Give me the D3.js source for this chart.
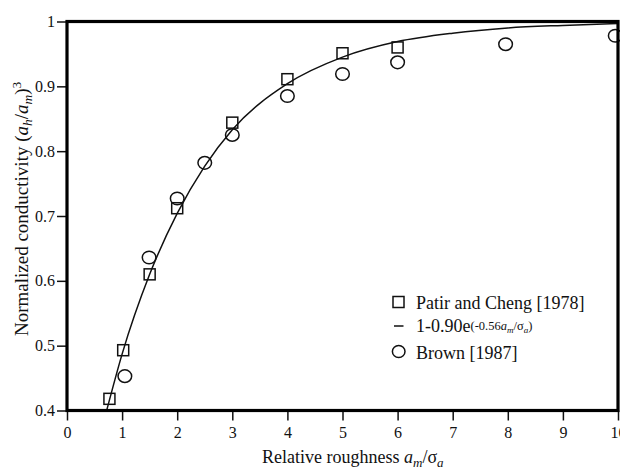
<!DOCTYPE html>
<html><head><meta charset="utf-8">
<script src="https://cdn.jsdelivr.net/npm/d3@7"></script>
<style>
body{margin:0;background:#fff}
svg text{font-family:"Times New Roman",Tinos,"Liberation Serif","DejaVu Serif","Noto Serif",serif !important;fill:#111}
</style>
</head><body><svg id="c" width="620" height="468"></svg>
<script>
// Patir and Cheng [1978] (squares)
const patirX = [0.77, 1.02, 1.5, 2, 3, 4, 5, 6];
const patirY = [0.418, 0.493, 0.61, 0.712, 0.844, 0.911, 0.951, 0.960];
// Brown [1987] (circles)
const brownX = [1.05, 1.49, 2, 2.5, 3, 4, 5, 6, 7.96, 9.95];
const brownY = [0.453, 0.636, 0.727, 0.782, 0.825, 0.885, 0.919, 0.937, 0.965, 0.978];
// fitted curve
const fitX = [0.72, 1, 1.5, 2, 2.5, 3, 4, 5, 6, 7, 8, 9, 10];
const fitY = [0.40, 0.487, 0.61, 0.704, 0.777, 0.833, 0.904, 0.945, 0.969, 0.982, 0.990, 0.994, 0.997];
// ticks
const xTicks = [0, 1, 2, 3, 4, 5, 6, 7, 8, 9, 10];
const xTickLabels = ["0","1","2","3","4","5","6","7","8","9","10"];
const yTicks = [0.4, 0.5, 0.6, 0.7, 0.8, 0.9, 1];
const yTickLabels = ["0.4","0.5","0.6","0.7","0.8","0.9","1"];

const FONT = '"Times New Roman", Tinos, "Liberation Serif", "DejaVu Serif", "Noto Serif", serif';
const svg = d3.select("#c");
const L = 67, R = 618, T = 21.5, B = 410.5;
const x = d3.scaleLinear().domain([0, 10]).range([L, R]);
const y = d3.scaleLinear().domain([0.4, 1]).range([B, T]);

svg.append("rect").attr("width", 620).attr("height", 468).attr("fill", "#fff");

svg.append("defs").append("clipPath").attr("id", "clip")
  .append("rect").attr("x", L).attr("y", T).attr("width", R - L).attr("height", B - T);

// axes
const xAxis = d3.axisBottom(x).tickValues(xTicks).tickFormat((d, i) => xTickLabels[i]).tickSize(10).tickSizeOuter(0).tickPadding(6);
const gx = svg.append("g").attr("transform", `translate(0,${B})`).call(xAxis).attr("font-family", FONT);
gx.select(".domain").remove();
gx.selectAll("line").attr("stroke", "#111").attr("stroke-width", 1.5);
gx.selectAll("text").attr("font-size", 16).attr("fill", "#111");

const yAxis = d3.axisLeft(y).tickValues(yTicks).tickFormat((d, i) => yTickLabels[i]).tickSize(10).tickSizeOuter(0).tickPadding(2);
const gy = svg.append("g").attr("transform", `translate(${L},0)`).call(yAxis).attr("font-family", FONT);
gy.select(".domain").remove();
gy.selectAll("line").attr("stroke", "#111").attr("stroke-width", 1.5);
gy.selectAll("text").attr("font-size", 16).attr("fill", "#111");

// curve
const fit = fitX.map((v, i) => [v, fitY[i]]);
svg.append("path").attr("clip-path", "url(#clip)")
  .datum(fit)
  .attr("fill", "none").attr("stroke", "#111").attr("stroke-width", 1.5)
  .attr("d", d3.line().x(d => x(d[0])).y(d => y(d[1])).curve(d3.curveMonotoneX));

// squares
const sq = 11;
svg.append("g").selectAll("rect").data(patirX.map((v, i) => [v, patirY[i]])).join("rect")
  .attr("x", d => x(d[0]) - sq / 2).attr("y", d => y(d[1]) - sq / 2)
  .attr("width", sq).attr("height", sq)
  .attr("fill", "none").attr("stroke", "#111").attr("stroke-width", 1.5);

// circles
svg.append("g").selectAll("ellipse").data(brownX.map((v, i) => [v, brownY[i]])).join("ellipse")
  .attr("cx", d => x(d[0])).attr("cy", d => y(d[1]))
  .attr("rx", 6.8).attr("ry", 6.3)
  .attr("fill", "none").attr("stroke", "#111").attr("stroke-width", 1.5);

// frame
svg.append("rect").attr("x", L).attr("y", T).attr("width", R - L).attr("height", B - T)
  .attr("fill", "none").attr("stroke", "#000").attr("stroke-width", 3.2);

// legend
const lg = svg.append("g").attr("font-family", FONT);
lg.append("rect").attr("x", 393).attr("y", 296.5).attr("width", 11).attr("height", 11)
  .attr("fill", "none").attr("stroke", "#111").attr("stroke-width", 1.5);
lg.append("text").attr("x", 416).attr("y", 309).attr("font-size", 18).text("Patir and Cheng [1978]");
lg.append("line").attr("x1", 394).attr("x2", 403.5).attr("y1", 326).attr("y2", 326)
  .attr("stroke", "#111").attr("stroke-width", 1.5);
const t2 = lg.append("text").attr("x", 416).attr("y", 332).attr("font-size", 18);
t2.append("tspan").text("1-0.90e");
t2.append("tspan").attr("font-size", 12.5).attr("dy", -2).text("(-0.56");
t2.append("tspan").attr("font-size", 12.5).attr("font-style", "italic").text("a");
t2.append("tspan").attr("font-size", 9).attr("font-style", "italic").attr("dy", 3).text("m");
t2.append("tspan").attr("font-size", 12.5).attr("dy", -3).text("/σ");
t2.append("tspan").attr("font-size", 9).attr("font-style", "italic").attr("dy", 3).text("a");
t2.append("tspan").attr("font-size", 12.5).attr("dy", -3).text(")");
lg.append("ellipse").attr("cx", 398.7).attr("cy", 351.5).attr("rx", 6.3).attr("ry", 6)
  .attr("fill", "none").attr("stroke", "#111").attr("stroke-width", 1.5);
lg.append("text").attr("x", 416).attr("y", 359).attr("font-size", 18).text("Brown [1987]");

// x title
const xt = svg.append("text").attr("x", 262).attr("y", 463).attr("font-size", 18).attr("font-family", FONT);
xt.append("tspan").text("Relative roughness ");
xt.append("tspan").attr("font-style", "italic").text("a");
xt.append("tspan").attr("font-style", "italic").attr("font-size", 13).attr("dy", 4).text("m");
xt.append("tspan").attr("dy", -4).text("/σ");
xt.append("tspan").attr("font-style", "italic").attr("font-size", 13).attr("dy", 4).text("a");

// y title
const yt = svg.append("text").attr("transform", "translate(28,336) rotate(-90)").attr("font-size", 19).attr("font-family", FONT);
yt.append("tspan").text("Normalized conductivity (");
yt.append("tspan").attr("font-style", "italic").text("a");
yt.append("tspan").attr("font-style", "italic").attr("font-size", 13.5).attr("dy", 4).text("h");
yt.append("tspan").attr("dy", -4).text("/");
yt.append("tspan").attr("font-style", "italic").text("a");
yt.append("tspan").attr("font-style", "italic").attr("font-size", 13.5).attr("dy", 4).text("m");
yt.append("tspan").attr("dy", -4).text(")");
yt.append("tspan").attr("font-size", 13.5).attr("dy", -7).text("3");
</script>
</body></html>
